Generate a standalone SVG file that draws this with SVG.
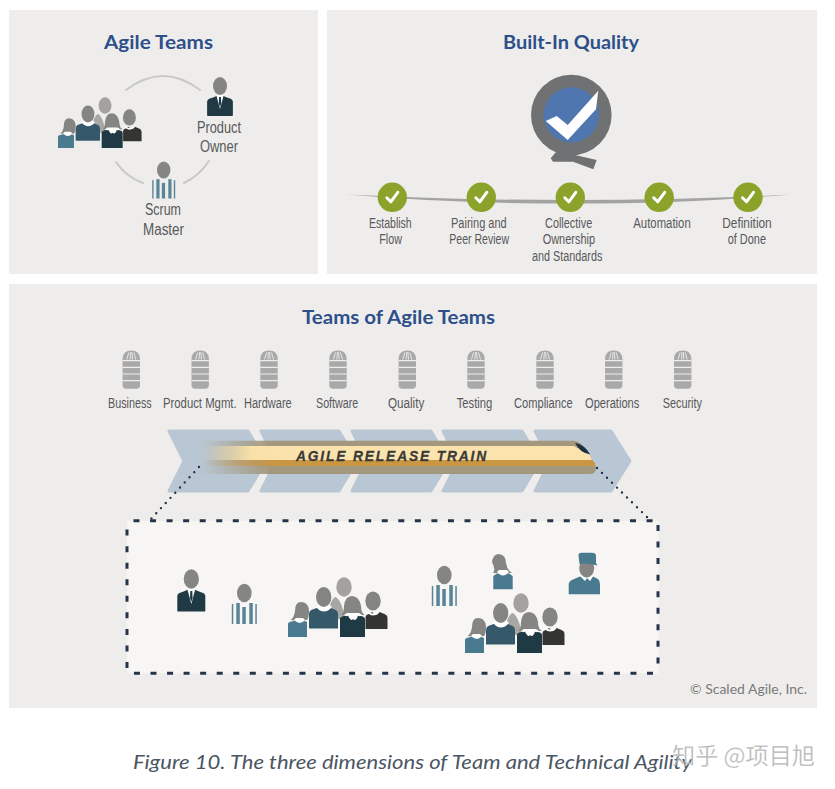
<svg xmlns="http://www.w3.org/2000/svg" width="835" height="789" viewBox="0 0 835 789">
<style>
.panel{fill:#eeedec}
.title{font-family:"Lato","Liberation Sans",sans-serif;font-weight:700;font-size:18px;fill:#2d4f8a}
.lbl{font-family:"Liberation Sans",sans-serif;font-size:16px;fill:#57585a}
.lbl2{font-family:"Liberation Sans",sans-serif;font-size:14px;fill:#57585a}
.arc{fill:none;stroke:#c8c8c6;stroke-width:2;stroke-linecap:round}
.chev{fill:#b9c7d4;stroke:#b9c7d4;stroke-width:3;stroke-linejoin:round}
.head{fill:#858583}
.check{fill:none;stroke:#fff;stroke-width:3;stroke-linecap:round;stroke-linejoin:round}
</style>
<defs>
<linearGradient id="brown" x1="200" x2="270" y1="0" y2="0" gradientUnits="userSpaceOnUse"><stop offset="0" stop-color="#a3977d" stop-opacity="0"/><stop offset="1" stop-color="#a3977d"/></linearGradient>
<linearGradient id="cream" x1="203" x2="300" y1="0" y2="0" gradientUnits="userSpaceOnUse"><stop offset="0" stop-color="#fbe3ae" stop-opacity="0"/><stop offset="0.5" stop-color="#f9e0a8"/><stop offset="1" stop-color="#fbe3ae"/></linearGradient>
<linearGradient id="orange" x1="203" x2="275" y1="0" y2="0" gradientUnits="userSpaceOnUse"><stop offset="0" stop-color="#c99643" stop-opacity="0"/><stop offset="1" stop-color="#c99643"/></linearGradient>
<g id="team">
<ellipse cx="56" cy="10" rx="7.7" ry="9.7" fill="#a3a29e"/>
<path d="M38 42Q43 20 48 20Q54 24 57 42Z" fill="#a8a7a3"/>
<path d="M78 52V40Q78 38 81 37L85 35Q86 38 88 38Q90 38 92 35L97 37Q100 38 100 41V52Z" fill="#343433" transform="translate(-.5 0)"/>
<path d="M79.5 34Q85 39 91 34L91 36Q85 41 79.5 36Z" fill="#fff"/>
<ellipse cx="85" cy="24" rx="7.7" ry="9.6" class="head"/>
<path d="M21 51V37Q21 33 26 32L30 30.5H42L45 32Q50 33 50 37V51Q50 51.500 49 51.500H22Q21 51.500 21 51Z" fill="#35596a"/>
<path d="M28 30Q36 39 44 30L42 28H30Z" fill="#fff"/>
<ellipse cx="35.700" cy="20" rx="7.700" ry="10" class="head"/>
<path d="M52 60V42Q52 40 56 39L60 37.500H68L73 39Q77 40 77 42V60Z" fill="#1f3a44"/>
<path d="M53 38Q56 36 56 29Q57 19 64 19Q71 19 73 29Q73 36 77 38Q71 38 64.500 38Q58 38 53 38Z" fill="#858583"/>
<path d="M56 38Q59 40 60 38.500Q63 45 65 42Q68 45 70 38.500Q71 40 74 38L71 36H59Z" fill="#fff"/>
<path d="M0 60V47Q0 45 4 44.500L7 43.500H15L19 45V60Z" fill="#4a7a90"/>
<path d="M2.500 43Q6 41 7 34Q7 25 13 25Q20 25 21 33Q21 41 19 43Q12 44 2.500 43Z" fill="#858583"/>
<path d="M6 43Q12 49 17 43L15 41H8Z" fill="#fff"/>
</g>
<g id="suit">
<path d="M-14 32V17Q-14 14 -9 13L-3 10.500H3L9 13Q14 14 14 17V32Q14 32.500 13 32.500H-13Q-14 32.500 -14 32Z" fill="#1f3a44"/>
<path d="M-4 10L0 25L4 10L2 9H-2Z" fill="#fff"/>
<path d="M-1 12H1L1.300 19L0 23L-1.300 19Z" fill="#1f3a44"/>
<ellipse cx="0" cy="0" rx="7.600" ry="9.700" class="head"/>
</g>
<g id="scrum">
<rect x="-12.500" y="11" width="1.500" height="20" fill="#5a8498"/>
<rect x="-8" y="10" width="3.500" height="21" fill="#5a8498"/>
<rect x="-2" y="14" width="3.500" height="17" fill="#5a8498"/>
<rect x="5" y="10" width="3.500" height="21" fill="#5a8498"/>
<rect x="11" y="11" width="1.500" height="20" fill="#5a8498"/>
<ellipse cx="0" cy="0" rx="7.300" ry="9.300" class="head"/>
</g>
<g id="db">
<path d="M-8.700 8.500Q-8.700 -.5 0 -.5Q8.700 -.5 8.700 8.500V34Q8.700 37.800 5 37.800H-5Q-8.700 37.800 -8.700 34Z" fill="#a9a9a9"/>
<path d="M-8.700 9.700H8.700M-8.700 16.300H8.700M-8.700 23H8.700M-8.700 29.700H8.700" stroke="#eeedec" stroke-width="1.200"/>
<path d="M-4.500 8.500L-2.500 1.500M-1.200 8.500L-.6 1M1.200 8.500L.6 1M4.500 8.500L2.500 1.500" stroke="#eeedec" stroke-width=".9"/>
</g>
<g id="tick">
<circle r="14.700" fill="#8ca32b"/>
<path d="M-5.500 .5L-1.500 4.500L5.500 -5" class="check"/>
</g>
</defs>

<rect class="panel" x="9" y="10" width="309" height="264"/>
<rect class="panel" x="327" y="10" width="490" height="264"/>
<rect class="panel" x="9" y="284" width="808" height="424"/>

<g id="release-train">
<path class="chev" d="M169 431H248L266 461L248 491H169L184 461Z"/>
<path class="chev" d="M261 431H339L357 461L339 491H261L276 461Z"/>
<path class="chev" d="M352 431H431L449 461L431 491H352L367 461Z"/>
<path class="chev" d="M443 431H522L540 461L522 491H443L458 461Z"/>
<path class="chev" d="M535 431H611L630 461L611 491H535L550 461Z"/>
<rect x="200" y="440.700" width="374" height="33.300" fill="url(#brown)"/>
<path d="M574 440.700Q582 441 590 455L596 468Q596 474 590 474H574Z" fill="#a3977d"/>
<path d="M203 446H574L590 455L592 460H203Z" fill="url(#cream)"/>
<path d="M203 460H592Q595.500 462 595.500 466H203Z" fill="url(#orange)"/>
<path d="M575 442.700Q585 445 590 454.300Q580 453 575 442.700Z" fill="#1d2f40"/>
<text x="296" y="460.700" textLength="192" lengthAdjust="spacingAndGlyphs" font-family="Liberation Sans, sans-serif" font-weight="700" font-style="italic" font-size="15" letter-spacing="2" fill="#3a3a38" stroke="#3a3a38" stroke-width=".3">AGILE RELEASE TRAIN</text>
</g>

<g id="connectors">
<path class="arc" d="M126 90Q163 62 200 90"/>
<path class="arc" d="M116 162Q126 177 143 183"/>
<path class="arc" d="M209 161Q199 176 184 183"/>
<path d="M347 194.500Q450 200 570 200Q690 200 790 194.500Q690 203.500 570 203.500Q450 203.500 347 194.500Z" fill="#a3a3a1"/>
<path d="M199 467L150 520" fill="none" stroke="#26344a" stroke-width="2.400" stroke-linecap="round" stroke-dasharray="0 7"/>
<path d="M597 468L650 520" fill="none" stroke="#26344a" stroke-width="2.400" stroke-linecap="round" stroke-dasharray="0 7"/>
</g>

<g id="agile-teams">
<text class="title" x="104" y="49" textLength="109" lengthAdjust="spacingAndGlyphs">Agile Teams</text>
<use href="#team" transform="translate(58 97) scale(.84 .85)"/>
</g>
<g id="product-owner">
<use href="#suit" transform="translate(220 86) scale(.92)"/>
<text class="lbl" x="197" y="132.700" textLength="44" lengthAdjust="spacingAndGlyphs">Product</text>
<text class="lbl" x="200" y="151.700" textLength="38" lengthAdjust="spacingAndGlyphs">Owner</text>
</g>
<g id="scrum-master">
<use href="#scrum" transform="translate(163.700 170) scale(.92)"/>
<text class="lbl" x="145" y="215" textLength="36" lengthAdjust="spacingAndGlyphs">Scrum</text>
<text class="lbl" x="143" y="235" textLength="41" lengthAdjust="spacingAndGlyphs">Master</text>
</g>

<g id="built-in-quality">
<text class="title" x="503" y="49" textLength="136" lengthAdjust="spacingAndGlyphs">Built-In Quality</text>
<path d="M550.700 158.300L556 152L575 155L596.700 160L593.300 169.300L573 161.700L553 161.700Z" fill="#6f7173"/>
<circle cx="571.300" cy="115" r="40.300" fill="#6f7173"/>
<circle cx="571.300" cy="115" r="27.700" fill="#4f76ae"/>
<path d="M545.700 121L556.700 116L567.700 125L598.300 90.700L596 109.300L567.700 140Z" fill="#fff"/>
</g>
<g id="establish-flow">
<use href="#tick" x="392.300" y="197.300"/>
<text class="lbl2" x="369" y="228" textLength="42.700" lengthAdjust="spacingAndGlyphs">Establish</text>
<text class="lbl2" x="379.300" y="244" textLength="22.700" lengthAdjust="spacingAndGlyphs">Flow</text>
</g>
<g id="pairing">
<use href="#tick" x="481.300" y="197.300"/>
<text class="lbl2" x="451" y="228" textLength="55.700" lengthAdjust="spacingAndGlyphs">Pairing and</text>
<text class="lbl2" x="449.300" y="244" textLength="59.700" lengthAdjust="spacingAndGlyphs">Peer Review</text>
</g>
<g id="collective">
<use href="#tick" x="570.300" y="197.300"/>
<text class="lbl2" x="545" y="228" textLength="47.300" lengthAdjust="spacingAndGlyphs">Collective</text>
<text class="lbl2" x="542.700" y="244" textLength="52.300" lengthAdjust="spacingAndGlyphs">Ownership</text>
<text class="lbl2" x="532" y="261" textLength="70.300" lengthAdjust="spacingAndGlyphs">and Standards</text>
</g>
<g id="automation">
<use href="#tick" x="659.200" y="197.300"/>
<text class="lbl2" x="633.300" y="228" textLength="57.400" lengthAdjust="spacingAndGlyphs">Automation</text>
</g>
<g id="definition">
<use href="#tick" x="748" y="197.300"/>
<text class="lbl2" x="722.300" y="228" textLength="49.400" lengthAdjust="spacingAndGlyphs">Definition</text>
<text class="lbl2" x="727.700" y="244" textLength="38.300" lengthAdjust="spacingAndGlyphs">of Done</text>
</g>

<g id="teams-of-agile-teams">
<text class="title" x="302" y="324" textLength="193" lengthAdjust="spacingAndGlyphs">Teams of Agile Teams</text>
</g>
<g id="business"><use href="#db" x="131.300" y="351"/><text class="lbl2" x="108" y="408" textLength="43.700" lengthAdjust="spacingAndGlyphs">Business</text></g>
<g id="product-mgmt"><use href="#db" x="200.200" y="351"/><text class="lbl2" transform="translate(163 408) scale(.81 1)">Product Mgmt.</text></g>
<g id="hardware"><use href="#db" x="269" y="351"/><text class="lbl2" x="244" y="408" textLength="47.700" lengthAdjust="spacingAndGlyphs">Hardware</text></g>
<g id="software"><use href="#db" x="338" y="351"/><text class="lbl2" x="316" y="408" textLength="42.300" lengthAdjust="spacingAndGlyphs">Software</text></g>
<g id="quality"><use href="#db" x="407.300" y="351"/><text class="lbl2" x="388" y="408" textLength="36.200" lengthAdjust="spacingAndGlyphs">Quality</text></g>
<g id="testing"><use href="#db" x="476" y="351"/><text class="lbl2" x="456.700" y="408" textLength="35.600" lengthAdjust="spacingAndGlyphs">Testing</text></g>
<g id="compliance"><use href="#db" x="545" y="351"/><text class="lbl2" x="514" y="408" textLength="58.700" lengthAdjust="spacingAndGlyphs">Compliance</text></g>
<g id="operations"><use href="#db" x="613.700" y="351"/><text class="lbl2" x="585" y="408" textLength="54.300" lengthAdjust="spacingAndGlyphs">Operations</text></g>
<g id="security"><use href="#db" x="682.700" y="351"/><text class="lbl2" x="662.700" y="408" textLength="39.300" lengthAdjust="spacingAndGlyphs">Security</text></g>

<g id="detail-box">
<rect x="127" y="521" width="531.500" height="152.300" fill="#f7f6f5"/>
<path d="M133.500 520.700H658M658 525V673.300M653 673.300H127M127 668V526" fill="none" stroke="#26344a" stroke-width="3" stroke-dasharray="6 10.550"/>
</g>
<g id="box-product-owner"><use href="#suit" transform="translate(191.300 579)"/></g>
<g id="box-scrum-master"><use href="#scrum" x="244.300" y="593"/></g>
<g id="box-team-1"><use href="#team" x="288" y="577"/></g>
<g id="box-scrum-master-2"><use href="#scrum" x="444.300" y="575"/></g>
<g id="box-woman">
<path d="M493 573Q496 570 492 562Q493 554 499 554Q506 555 506 563Q507 570 512 573Z" fill="#858583"/>
<path d="M493.300 589.300V576L497 573.500H509L512.700 576V589.300Z" fill="#4a7a90"/>
<path d="M497 572Q503 579 509 572L507 570H499Z" fill="#fff"/>
</g>
<g id="box-team-2"><use href="#team" x="465" y="593"/></g>
<g id="box-conductor">
<path d="M568.700 594.300V584Q569 581 574 579L580 576.500H593L598 579Q600 581 600 584V594.300Z" fill="#4a7a90"/>
<path d="M579 575L585 581L587 578L590 581L594 575Z" fill="#fff"/>
<ellipse cx="586.700" cy="568" rx="7.500" ry="9.500" class="head"/>
<path d="M578.500 556Q578 552.700 582 552.700H592Q596 552.700 596 556V563L597.500 565.500L590 564Q584 563 579.500 564Z" fill="#4a7a90"/>
</g>

<text x="690" y="694" font-family="Lato, sans-serif" font-size="13" fill="#7a7a7a" textLength="117" lengthAdjust="spacingAndGlyphs">© Scaled Agile, Inc.</text>
<text x="133" y="769" font-family="Lato, sans-serif" font-style="italic" font-size="20" fill="#4a5663" textLength="559" lengthAdjust="spacingAndGlyphs">Figure 10. The three dimensions of Team and Technical Agility</text>
<text x="672" y="764" font-family="Noto Sans CJK SC, sans-serif" font-size="23" fill="#a5a5a5" fill-opacity=".8" stroke="#fff" stroke-opacity=".5" stroke-width=".5" textLength="143" lengthAdjust="spacingAndGlyphs">知乎 @项目旭</text>
</svg>
